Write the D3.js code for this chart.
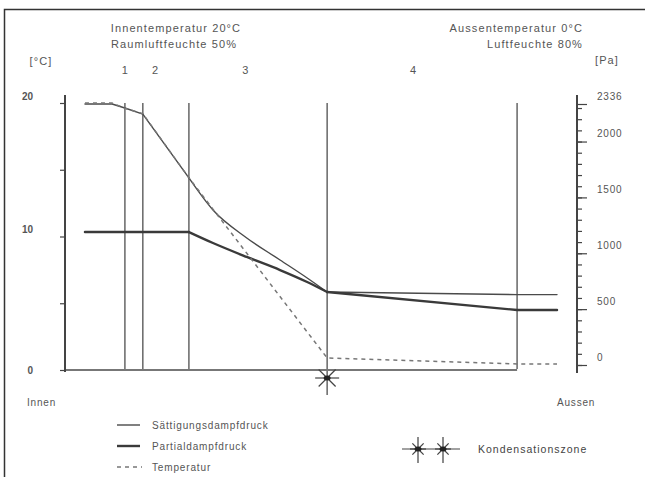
<!DOCTYPE html>
<html><head><meta charset="utf-8">
<script src="https://cdn.jsdelivr.net/npm/d3@7"></script>
<style>
html,body{margin:0;padding:0;background:#fff;}
svg{display:block;}
text{font-family:"Liberation Sans",Arial,sans-serif;fill:#555;}
</style></head>
<body>
<svg id="chart" width="645" height="477"></svg>
<script>
// ---- data ----
const curveX       = [3.9, 9.2, 11.7, 15.2, 24.2, 28.9, 35.5, 42.0, 47.3, 51.2, 88.3, 96.1];
const saturationPa = [2336, 2336, 2300, 2246, 1674, 1387, 1137, 940, 779, 653, 630, 630];
const partialPa    = [1190, 1190, 1190, 1190, 1190, 1092, 967, 850, 743, 653, 492, 492];
const tempX        = [3.9, 9.2, 11.7, 15.2, 24.2, 51.2, 88.3, 96.1];
const temperatureC = [20, 20, 19.6, 19.2, 14.4, 0.9, 0.45, 0.45];
const layerBounds  = [11.7, 15.2, 24.2, 51.2, 88.3];
const layerNames   = ["1", "2", "3", "4"];
const layerLabelX  = [11.7, 17.6, 35.2, 68.0];
const condensationX = 51.2;
const tempTicks    = [0, 5, 10, 15, 20];
const tempLabels   = [0, 10, 20];
const paMajorTicks = [0, 500, 1000, 1500, 2000, 2336];
const paMinorTicks = d3.range(0, 2336, 100);
const legendNames  = ["Sättigungsdampfdruck", "Partialdampfdruck", "Temperatur"];

const svg = d3.select("#chart");
const ink = "#444";

const x = d3.scaleLinear().domain([0, 100]).range([65, 577]);
const yT = d3.scaleLinear().domain([0, 20]).range([370, 103]);
const yP = d3.scaleLinear().domain([0, 2336]).range([365, 104]);

// frame
svg.append("rect").attr("x", 4.5).attr("y", 9.5).attr("width", 700).attr("height", 520)
  .attr("fill", "none").attr("stroke", "#333").attr("stroke-width", 1.5);

// header texts
const hdr = svg.append("g").style("font-size", "11px").style("letter-spacing", "1.1px");
hdr.append("text").attr("x", 176).attr("y", 32).attr("text-anchor", "middle").text("Innentemperatur 20°C");
hdr.append("text").attr("x", 174).attr("y", 48).attr("text-anchor", "middle").text("Raumluftfeuchte 50%");
hdr.append("text").attr("x", 583).attr("y", 32).attr("text-anchor", "end").text("Aussentemperatur 0°C");
hdr.append("text").attr("x", 583).attr("y", 48).attr("text-anchor", "end").text("Luftfeuchte 80%");
hdr.append("text").attr("x", 41).attr("y", 65).attr("text-anchor", "middle").text("[°C]");
hdr.append("text").attr("x", 607).attr("y", 64).attr("text-anchor", "middle").text("[Pa]");

// layer labels
svg.append("g").style("font-size", "11px").selectAll("text").data(layerNames).join("text")
  .attr("x", (d, i) => x(layerLabelX[i])).attr("y", 74).attr("text-anchor", "middle").text(d => d);

// layer boundaries
svg.append("g").selectAll("line").data(layerBounds).join("line")
  .attr("x1", d => x(d)).attr("x2", d => x(d))
  .attr("y1", 103).attr("y2", d => d === condensationX ? 395 : 369)
  .attr("stroke", "#666").attr("stroke-width", 1.5);

// baseline
svg.append("line").attr("x1", x(0)).attr("x2", x(88.3)).attr("y1", yT(0)).attr("y2", yT(0))
  .attr("stroke", "#777").attr("stroke-width", 2.2);

// left axis
const la = svg.append("g").attr("transform", `translate(${x(0)},0)`)
  .call(d3.axisLeft(yT).tickValues(tempTicks).tickSize(5).tickPadding(27)
    .tickFormat(d => tempLabels.includes(d) ? d : ""));
la.select(".domain").remove();
la.selectAll("line").attr("stroke", ink).attr("stroke-width", 1.2);
la.selectAll("text").style("font-size", "10px").style("font-weight", "bold").style("fill", "#555")
  .attr("dy", d => d === 0 ? "0.32em" : "-0.4em");
la.append("line").attr("x1", 0).attr("x2", 0).attr("y1", 95).attr("y2", 372)
  .attr("stroke", ink).attr("stroke-width", 2);

// right axis
const raMin = svg.append("g").attr("transform", `translate(${x(100)},0)`)
  .call(d3.axisRight(yP).tickValues(paMinorTicks).tickSize(5).tickFormat(""));
raMin.select(".domain").remove();
raMin.selectAll("line").attr("stroke", ink).attr("stroke-width", 1.2);
const ra = svg.append("g").attr("transform", `translate(${x(100)},0)`)
  .call(d3.axisRight(yP).tickValues(paMajorTicks).tickSize(10).tickPadding(10).tickFormat(d3.format("d")));
ra.select(".domain").remove();
ra.selectAll("line").attr("stroke", ink).attr("stroke-width", 1.2);
ra.selectAll("text").style("font-size", "10px").style("letter-spacing", "0.8px").style("fill", "#555")
  .attr("dy", "-0.5em");
ra.append("line").attr("x1", 0).attr("x2", 0).attr("y1", 95).attr("y2", 373)
  .attr("stroke", ink).attr("stroke-width", 2);

// curves: linear across layer kinks, smooth inside layer 3
const segLinear = d3.line().x(d => x(d[0])).y(d => yP(d[1]));
const segSmooth = d3.line().x(d => x(d[0])).y(d => yP(d[1])).curve(d3.curveMonotoneX);
function drawPa(values, stroke, width) {
  const pts = curveX.map((v, i) => [v, values[i]]);
  const i0 = curveX.indexOf(24.2), i1 = curveX.indexOf(51.2);
  const g = svg.append("g").attr("fill", "none").attr("stroke", stroke).attr("stroke-width", width)
    .attr("stroke-linecap", "round").attr("stroke-linejoin", "round");
  g.append("path").attr("d", segLinear(pts.slice(0, i0 + 1)));
  g.append("path").attr("d", segSmooth(pts.slice(i0, i1 + 1)));
  g.append("path").attr("d", segLinear(pts.slice(i1)));
}
drawPa(saturationPa, "#4a4a4a", 1.4);
drawPa(partialPa, "#3a3a3a", 2.4);
const lineT = d3.line().x(d => x(d[0])).y(d => yT(d[1]));
svg.append("path").datum(tempX.map((v, i) => [v, temperatureC[i]])).attr("d", lineT)
  .attr("fill", "none").attr("stroke", "#777").attr("stroke-width", 1.5).attr("stroke-dasharray", "4,4");

// star symbol
function star(g, cx, cy, r) {
  d3.range(8).forEach(k => {
    if (k % 4 === 2) return;
    const a = k * Math.PI / 4;
    g.append("line").attr("x1", cx).attr("y1", cy)
      .attr("x2", cx + r * Math.cos(a)).attr("y2", cy + r * Math.sin(a))
      .attr("stroke", "#444").attr("stroke-width", 1.2);
  });
  g.append("ellipse").attr("cx", cx).attr("cy", cy).attr("rx", 3.5).attr("ry", 2.5).attr("fill", "#222");
}
star(svg.append("g"), x(condensationX), 378, 12);

// side labels
const sl = svg.append("g").style("font-size", "10px").style("letter-spacing", "0.8px");
sl.append("text").attr("x", 27).attr("y", 406).text("Innen");
sl.append("text").attr("x", 557).attr("y", 406).text("Aussen");

// legend
const lg = svg.append("g").style("font-size", "10px").style("letter-spacing", "0.85px");
const legY = [425, 446, 467];
lg.append("line").attr("x1", 117).attr("x2", 140).attr("y1", legY[0]).attr("y2", legY[0]).attr("stroke", "#4a4a4a").attr("stroke-width", 1.4);
lg.append("line").attr("x1", 117).attr("x2", 140).attr("y1", legY[1]).attr("y2", legY[1]).attr("stroke", "#3a3a3a").attr("stroke-width", 2.4);
lg.append("line").attr("x1", 117).attr("x2", 142).attr("y1", legY[2]).attr("y2", legY[2]).attr("stroke", "#777").attr("stroke-width", 1.5).attr("stroke-dasharray", "4,4");
lg.selectAll("text.l").data(legendNames).join("text").attr("class", "l")
  .attr("x", 152).attr("y", (d, i) => legY[i] + 3.5).text(d => d);

// condensation zone legend
const cz = svg.append("g");
cz.append("line").attr("x1", 402).attr("x2", 460).attr("y1", 449).attr("y2", 449).attr("stroke", "#444").attr("stroke-width", 1.2);
[418, 443].forEach(cx => {
  cz.append("line").attr("x1", cx).attr("x2", cx).attr("y1", 437).attr("y2", 463).attr("stroke", "#666").attr("stroke-width", 1.5);
  star(cz, cx, 449, 8);
});
cz.append("text").attr("x", 478).attr("y", 453).style("font-size", "10.5px").style("letter-spacing", "1px")
  .style("fill", "#444").text("Kondensationszone");
</script>
</body></html>
